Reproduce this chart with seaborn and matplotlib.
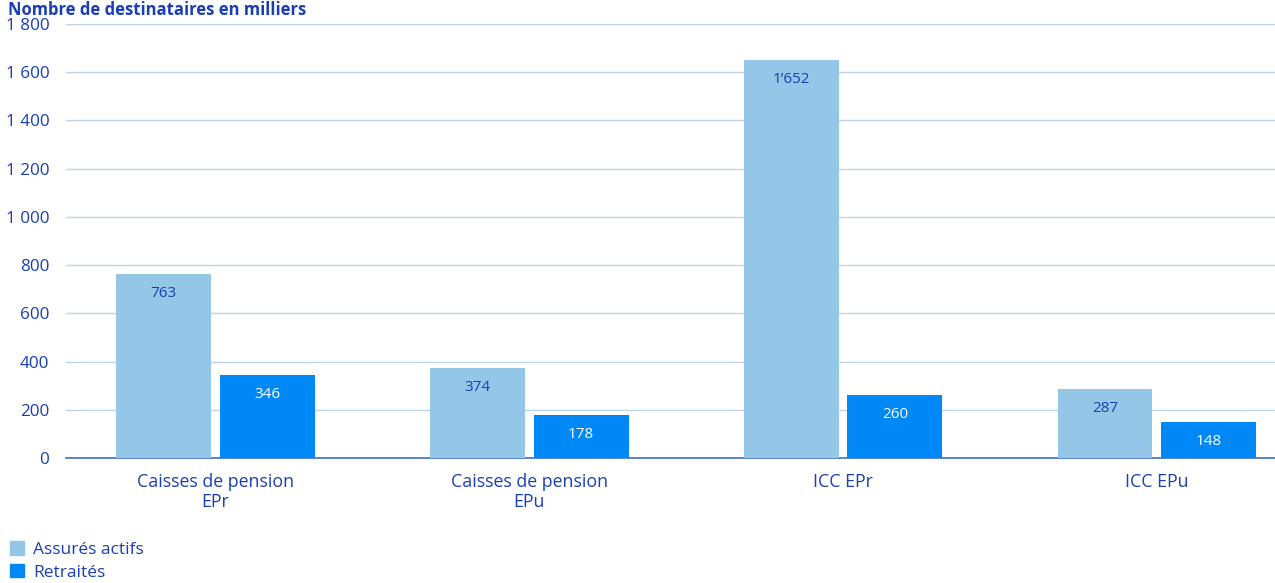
import seaborn as sns
import matplotlib.pyplot as plt
import pandas as pd

# data (milliers)
categories = ["Caisses de pension\nEPr", "Caisses de pension\nEPu", "ICC EPr", "ICC EPu"]
assures_actifs = [763, 374, 1652, 287]
retraites = [346, 178, 260, 148]
series_names = ["Assurés actifs", "Retraités"]
yticks = [0, 200, 400, 600, 800, 1000, 1200, 1400, 1600, 1800]

light = "#93C6E7"
dark = "#0088F7"
txt = "#1A3FB5"
gridc = "#BCD5E8"

df = pd.DataFrame({
    "cat": categories * 2,
    "serie": [series_names[0]] * 4 + [series_names[1]] * 4,
    "val": assures_actifs + retraites,
})

sns.set_style("white")
plt.rcParams['font.family'] = ['Open Sans', 'DejaVu Sans']

fig = plt.figure(figsize=(12.75, 5.83), dpi=100)
ax = fig.add_axes([66 / 1275, 125 / 583, 1 - 66 / 1275, 434 / 583])

sns.barplot(data=df, x="cat", y="val", hue="serie", order=categories,
            hue_order=series_names, palette=[light, dark], width=0.662,
            gap=0.086, saturation=1, legend=False, ax=ax, zorder=3,
            linewidth=0, edgecolor="none")

ax.set_ylim(0, 1800)
ax.set_xlim(-0.475, 3.376)
ax.set_yticks(yticks)
ax.set_yticklabels([f"{v:,}".replace(",", " ") for v in yticks])
ax.yaxis.grid(True, color=gridc, linewidth=1, zorder=0)
ax.set_axisbelow(True)
for s in ["top", "right", "left"]:
    ax.spines[s].set_visible(False)
ax.spines["bottom"].set_color("#3F6FC4")
ax.spines["bottom"].set_linewidth(1.2)
ax.tick_params(axis="both", length=0, labelsize=12.3, labelcolor=txt)
ax.tick_params(axis="y", pad=12)
ax.tick_params(axis="x", pad=11, labelsize=12.8)
for t in ax.get_xticklabels():
    t.set_linespacing(1.1)
ax.set_xlabel("")
ax.set_ylabel("")

# value labels inside the bars, near the top
for cont, col in zip(ax.containers, [txt, "white"]):
    for bar, v in zip(cont, cont.datavalues):
        lab = f"{int(v):,}".replace(",", "\u2019")
        ax.annotate(lab, (bar.get_x() + bar.get_width() / 2, v),
                    xytext=(0, -14), textcoords="offset points",
                    ha="center", va="center", fontsize=11, color=col)

fig.text(8 / 1275, 0.999, "Nombre de destinataires en milliers", fontsize=12,
         fontweight="bold", color=txt, ha="left", va="top")

handles = [plt.Rectangle((0, 0), 1, 1, color=c) for c in [light, dark]]
fig.legend(handles, series_names, loc="lower left", bbox_to_anchor=(0.0, -0.014),
           frameon=False, fontsize=12.5, labelcolor=txt, handlelength=0.8,
           handleheight=0.8, handletextpad=0.5, labelspacing=0.35, borderaxespad=0.2)

fig.savefig("out.png", dpi=100)
